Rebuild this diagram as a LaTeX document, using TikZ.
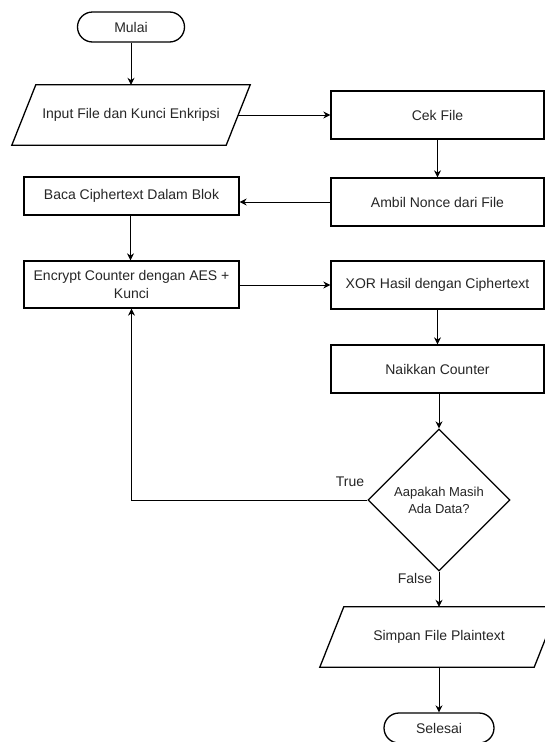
\documentclass[tikz,border=0pt]{standalone}
\usepackage{fontspec}
\setmainfont{Liberation Sans}
\usetikzlibrary{shapes.geometric,arrows.meta,calc}
\definecolor{txt}{HTML}{262626}
\tikzset{
  box/.style={draw=black, line width=1.3pt, rectangle, minimum width=213pt, minimum height=48pt, inner sep=0pt, align=center, text=txt, font=\fontsize{14}{18}\selectfont},
  io/.style={rectangle, minimum width=214pt, minimum height=60pt, inner sep=0pt, align=center, text=txt, font=\fontsize{14}{18}\selectfont},
  term/.style={draw=black, line width=1.3pt, rectangle, rounded corners=15pt, minimum width=107pt, minimum height=30pt, inner sep=0pt, text=txt, font=\fontsize{14}{18}\selectfont},
  dec/.style={draw=black, line width=1.3pt, diamond, aspect=1, minimum width=142pt, minimum height=142pt, inner sep=0pt, align=center, text=txt, font=\fontsize{13}{17}\selectfont},
  lbl/.style={text=txt, font=\fontsize{14}{18}\selectfont, inner sep=0pt},
  arr/.style={draw=black, line width=0.9pt, -{Stealth[length=7pt,width=7pt]}},
  ln/.style={draw=black, line width=0.9pt},
  iobox/.style={draw=black, line width=1.3pt}
}
\begin{document}
\begin{tikzpicture}[x=1pt,y=-1pt]
\useasboundingbox (0,0) rectangle (545,742);
\fill[white] (0,0) rectangle (545,742);

\node[term] (mulai) at (131,27) {Mulai};
\node[io] (input) at (131,115) {Input File dan Kunci Enkripsi};
\draw[iobox] ($(input.north west)+(12,0)$) -- ($(input.north east)+(12,0)$) -- ($(input.south east)+(-12,0)$) -- ($(input.south west)+(-12,0)$) -- cycle;

\node[box] (cek) at (437.5,115) {Cek File};
\node[box] (ambil) at (437.5,202) {Ambil Nonce dari File};
\node[box, minimum width=215pt, minimum height=38pt] (baca) at (131.5,196) {Baca Ciphertext Dalam Blok};
\node[box, minimum width=215pt, minimum height=47pt] (enc) at (131.5,284.5) {Encrypt Counter dengan AES +\\Kunci};
\node[box] (xor) at (437.5,285) {XOR Hasil dengan Ciphertext};
\node[box] (naik) at (437.5,369) {Naikkan Counter};
\node[dec] (ada) at (439,500) {Aapakah Masih\\Ada Data?};
\node[io] (simpan) at (439,637) {Simpan File Plaintext};
\draw[iobox] ($(simpan.north west)+(12,0)$) -- ($(simpan.north east)+(12,0)$) -- ($(simpan.south east)+(-12,0)$) -- ($(simpan.south west)+(-12,0)$) -- cycle;
\node[term, minimum width=110pt] (selesai) at (439,728) {Selesai};

\node[lbl] (ltrue) at (350,482) {True};
\node[lbl] (lfalse) at (415,578) {False};

\draw[arr] (mulai.south) -- (input.north);
\draw[arr] (input.east) -- (cek.west);
\draw[arr] (cek.south) -- (ambil.north);
\draw[arr] (ambil.west) -- (ambil.west -| baca.east);
\draw[arr] ($(baca.south)+(-1,0)$) -- ($(enc.north)+(-1,0)$);
\draw[arr] (enc.east |- xor.west) -- (xor.west);
\draw[arr] (xor.south) -- (naik.south |- xor.south) -- (naik.north);
\draw[arr] (naik.south -| ada.north) -- (ada.north);
\draw[arr] (ada.west) -| (enc.south);
\draw[arr] (ada.south) -- (simpan.north);
\draw[arr] (simpan.south) -- (selesai.north);
\end{tikzpicture}
\end{document}
